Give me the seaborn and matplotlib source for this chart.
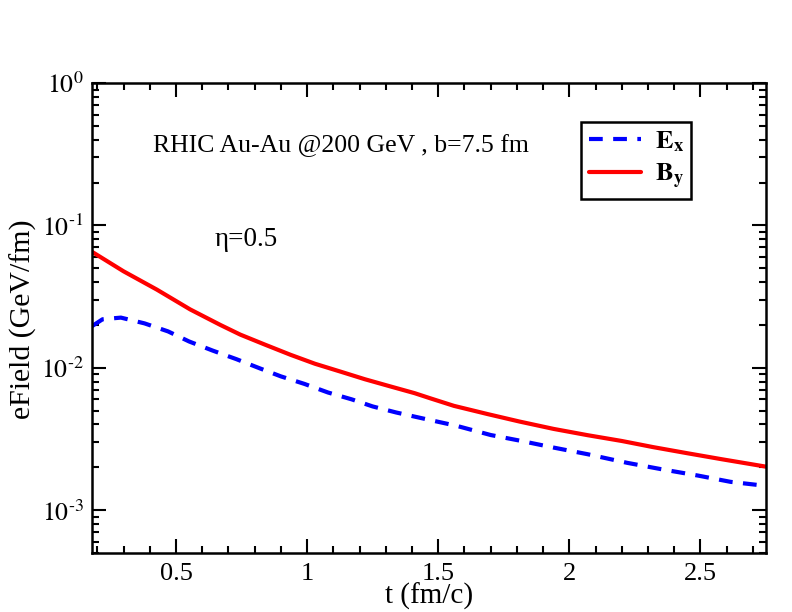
import seaborn as sns
import matplotlib.pyplot as plt
import matplotlib.ticker as mticker
import pandas as pd
import numpy as np

# values
t_ex = [0.18, 0.22, 0.29, 0.38, 0.47, 0.55, 0.64, 0.73, 0.82, 0.90, 0.99,
        1.08, 1.17, 1.25, 1.34, 1.45, 1.57, 1.70, 1.81, 1.94, 2.07, 2.22,
        2.35, 2.49, 2.615, 2.75]
e_x = [0.0196, 0.0219, 0.0225, 0.0205, 0.0180, 0.0153, 0.0132, 0.0115, 0.0099,
       0.0087, 0.0077, 0.0067, 0.0060, 0.00535, 0.00485, 0.00437, 0.00391,
       0.00337, 0.00308, 0.00275, 0.00247, 0.00215, 0.00194, 0.00175,
       0.00158, 0.00148]

t_by = [0.18, 0.30, 0.427, 0.554, 0.669, 0.745, 0.84, 0.936, 1.03, 1.127,
        1.22, 1.317, 1.41, 1.47, 1.56, 1.69, 1.81, 1.94, 2.07, 2.20, 2.32,
        2.45, 2.58, 2.75]
b_y = [0.0652, 0.0476, 0.0354, 0.0257, 0.0200, 0.0171, 0.01452, 0.01235,
       0.01067, 0.0094, 0.00831, 0.0074, 0.00663, 0.0061, 0.0054, 0.00472,
       0.00419, 0.00372, 0.00336, 0.00306, 0.00277, 0.00251, 0.00228, 0.00202]

labels = [r'$\mathbf{E_x}$', r'$\mathbf{B_y}$']

sns.set_style('ticks')
plt.rcParams['font.family'] = ['Liberation Serif', 'DejaVu Serif']
plt.rcParams['mathtext.fontset'] = 'stix'
for k in ['text.color', 'axes.labelcolor', 'xtick.color', 'ytick.color']:
    plt.rcParams[k] = 'black'

# long-form table for seaborn
df = pd.concat([
    pd.DataFrame({'t': t_ex, 'field': e_x, 'comp': labels[0]}),
    pd.DataFrame({'t': t_by, 'field': b_y, 'comp': labels[1]}),
])

fig = plt.figure(figsize=(7.92, 6.12), dpi=100)
ax = fig.add_axes([0.1162, 0.0964, 0.851, 0.768])

sns.lineplot(data=df, x='t', y='field', hue='comp', style='comp',
             palette={labels[0]: '#0000ff', labels[1]: '#ff0000'},
             dashes={labels[0]: (3.3, 2.5), labels[1]: ''},
             linewidth=3, sort=False, ax=ax)

ax.set_yscale('log')
ax.set_xlim(0.18, 2.75)
ax.set_ylim(5e-4, 1)

def log_label(v, pos):
    n = int(round(np.log10(v)))
    return r'$10^{\text{%d}}$' % n

ax.xaxis.set_major_locator(mticker.MultipleLocator(0.5))
ax.xaxis.set_minor_locator(mticker.MultipleLocator(0.1))
ax.xaxis.set_major_formatter(mticker.FuncFormatter(lambda v, p: f'{v:g}'))
ax.yaxis.set_major_locator(mticker.LogLocator(base=10, numticks=10))
ax.yaxis.set_major_formatter(mticker.FuncFormatter(log_label))
ax.yaxis.set_minor_locator(mticker.LogLocator(base=10, subs=np.arange(2, 10), numticks=20))
ax.yaxis.set_minor_formatter(mticker.NullFormatter())

ax.tick_params(which='both', direction='in', top=True, right=True, width=1.5)
ax.tick_params(which='major', length=10, labelsize=19, pad=7)
ax.tick_params(axis='y', which='major', labelsize=18.5, pad=6)
ax.tick_params(which='minor', length=5)
for s in ax.spines.values():
    s.set_linewidth(1.8)
    s.set_color('black')

ax.set_xlabel('t (fm/c)', fontsize=21, va='center')
ax.xaxis.set_label_coords(0.5, -0.093)
ax.set_ylabel('eField (GeV/fm)', fontsize=21.5, va='center')
ax.yaxis.set_label_coords(-0.102, 0.498)

ax.text(0.413, 0.366, 'RHIC Au-Au @200 GeV , b=7.5 fm', fontsize=18.5,
        ha='left', va='center')
ax.text(0.649, 0.0797, 'η=0.5', fontsize=19.5, ha='left', va='center')

leg = ax.legend(loc='upper left', bbox_to_anchor=(0.725, 0.918), fontsize=19,
                borderaxespad=0, fancybox=False, framealpha=1,
                edgecolor='black', handlelength=2.0, borderpad=0.3,
                labelspacing=0.3, handletextpad=0.5)
leg.get_frame().set_linewidth(1.8)

fig.savefig('out.png', dpi=100)
